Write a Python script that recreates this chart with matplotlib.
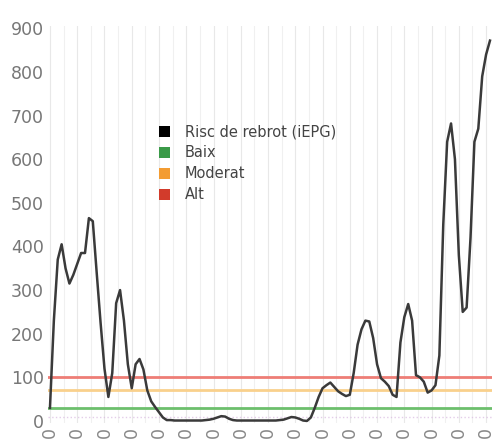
import numpy as np
import matplotlib

matplotlib.use("Agg")
import matplotlib.pyplot as plt
from matplotlib.patches import Patch

# daily values of the risk index (EPG)
days = list(range(0, 114))
risk = [
    30, 230, 370, 405, 350, 315, 335, 360, 385, 385,
    465, 458, 340, 225, 120, 55, 110, 270, 300, 230,
    130, 75, 130, 142, 118, 70, 45, 32, 20, 8,
    2, 2, 1, 1, 1, 1, 1, 1, 1, 1,
    2, 3, 5, 8, 11, 10, 5, 2, 1, 1,
    1, 1, 1, 1, 1, 1, 1, 1, 1, 2,
    3, 6, 9, 8, 5, 1, 0, 8, 30, 55,
    75, 82, 88, 78, 68, 62, 57, 60, 110, 175,
    210, 230, 228, 190, 130, 98, 90, 80, 60, 55,
    180, 238, 268, 230, 105, 100, 90, 65, 70, 82,
    150, 450, 640, 682, 600, 380, 250, 260, 420, 640,
    670, 790, 840, 872,
]

# threshold lines
thresholds = [30, 70, 100]
threshold_colors = ["#6cbf6c", "#f9d08c", "#ee7d76"]

legend_labels = ["Risc de rebrot (iEPG)", "Baix", "Moderat", "Alt"]
legend_colors = ["#000000", "#3a9a48", "#f39c32", "#d23b2b"]

tick_days = list(range(0, 113, 7))
y_ticks = list(range(0, 901, 100))

fig = plt.figure(figsize=(4.96, 4.44), dpi=100)
ax = fig.add_axes([0.0968, 0.047, 0.895, 0.894])

for d in tick_days:
    ax.axvline(d, color="#e8e8e8", lw=0.8, zorder=0)
    ax.axvline(d + 3.5, color="#f0f0f0", lw=0.8, zorder=0)

ax.axhline(8, color="#d8b8e0", lw=1, ls=":", alpha=0.7, zorder=1)
for t, c in zip(thresholds, threshold_colors):
    ax.axhline(t, color=c, lw=2, zorder=1)

ax.plot(days, risk, color="#3a3a3a", lw=1.8, zorder=3)

ax.set_xlim(-0.5, 113.5)
ax.set_ylim(-5, 905)
ax.set_yticks(y_ticks)
ax.set_yticklabels([str(v) for v in y_ticks], fontsize=12.5, color="#777777")
ax.set_xticks(tick_days)
ax.set_xticklabels(["0"] * len(tick_days), rotation=90, fontsize=12.5,
                   color="#888888", va="top")
ax.tick_params(length=0, pad=3)
for s in ax.spines.values():
    s.set_visible(False)

handles = [Patch(facecolor=c, edgecolor="none") for c in legend_colors]
ax.legend(handles, legend_labels, loc="upper left", bbox_to_anchor=(0.22, 0.785),
          frameon=False, fontsize=10.5, handlelength=0.8, handleheight=0.8,
          handletextpad=1.0, labelspacing=0.4, labelcolor="#444444")

plt.savefig("out.png", dpi=100)
